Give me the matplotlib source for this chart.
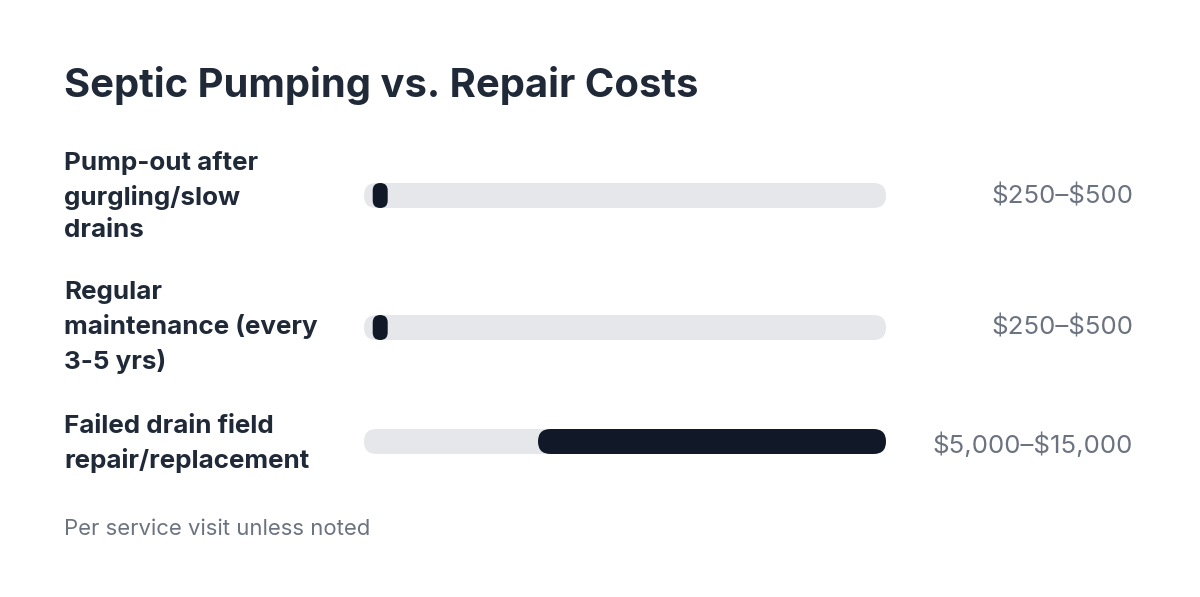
import matplotlib
matplotlib.use("Agg")
import matplotlib.pyplot as plt
from matplotlib.patches import FancyBboxPatch
from matplotlib.transforms import IdentityTransform

plt.rcParams['font.family'] = ['Inter', 'DejaVu Sans']

# Data
labels = ["Pump-out after\ngurgling/slow\ndrains",
          "Regular\nmaintenance (every\n3-5 yrs)",
          "Failed drain field\nrepair/replacement"]
low = [250, 250, 5000]
high = [500, 500, 15000]
value_text = ["$250–$500", "$250–$500", "$5,000–$15,000"]
scale_max = 15000

title = "Septic Pumping vs. Repair Costs"
note = "Per service visit unless noted"

W, H = 1200, 597
dark = "#111827"
track = "#e5e7eb"
ink = "#1f2937"
muted = "#6b7280"

fig = plt.figure(figsize=(W / 100, H / 100), dpi=100)
fig.patch.set_facecolor("white")

# bar area: x in value units, y in pixel rows (top = 0)
ax = fig.add_axes([364 / W, 0, 522 / W, 1])
ax.set_xlim(0, scale_max)
ax.set_ylim(H, 0)
ax.axis("off")

row_y = [195.5, 327.5, 441.5]
label_base = [237, 369, 468]   # baseline of last label line
value_base = [203, 335, 453]
bar_h = 25
min_w = 15


def pill(v0, v1, yc, color):
    x0, y0 = ax.transData.transform((v0, yc))
    x1, _ = ax.transData.transform((v1, yc))
    w = max(x1 - x0, min_w)
    p = FancyBboxPatch((x0, y0 - bar_h / 2), w, bar_h,
                       boxstyle=f"round,pad=0,rounding_size={min(w, bar_h) / 2}",
                       transform=IdentityTransform(), facecolor=color,
                       edgecolor="none", clip_on=False)
    ax.add_artist(p)


for i in range(len(labels)):
    yc = row_y[i]
    pill(0, scale_max, yc, track)
    pill(low[i], high[i], yc, dark)
    fig.text(64 / W, 1 - label_base[i] / H, labels[i], fontsize=18.7,
             fontweight="bold", color=ink, ha="left", va="baseline",
             linespacing=1.49)
    fig.text(1133 / W, 1 - value_base[i] / H, value_text[i], fontsize=18.6,
             color=muted, ha="right", va="baseline", parse_math=False)

fig.text(64 / W, 1 - 97 / H, title, fontsize=28.8, fontweight="bold",
         color=ink, ha="left", va="baseline")
fig.text(64 / W, 1 - 535 / H, note, fontsize=15.9, color=muted,
         ha="left", va="baseline")

fig.savefig("out.png", dpi=100, facecolor="white")
